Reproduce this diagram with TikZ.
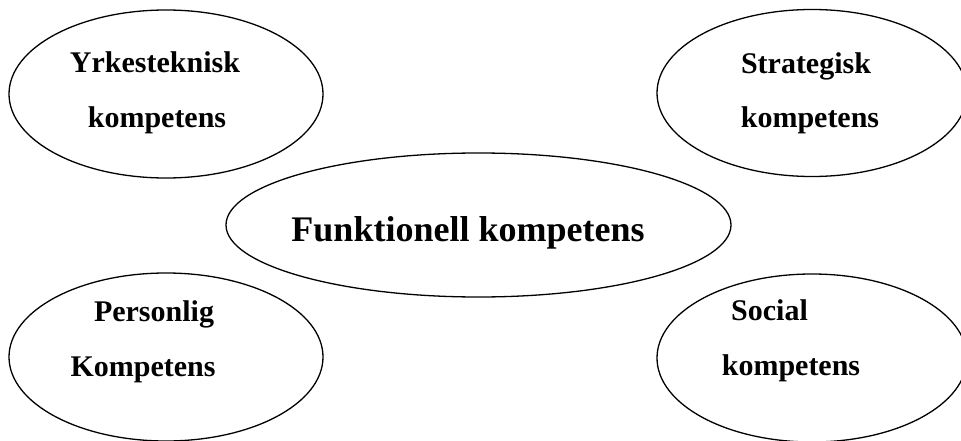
\documentclass[tikz,border=0pt]{standalone}
\usepackage{fontspec}
\setmainfont{Liberation Serif}
\usetikzlibrary{shapes.geometric}
\tikzset{
  bubble/.style={draw=black, line width=1.3pt, ellipse, inner sep=0pt},
  lbl/.style={font=\bfseries\fontsize{30}{34}\selectfont, inner sep=0pt, anchor=base},
  biglbl/.style={font=\bfseries\fontsize{36}{40}\selectfont, inner sep=0pt, anchor=base}
}
\begin{document}
\begin{tikzpicture}[x=1pt,y=-1pt]
  \useasboundingbox (0,0) rectangle (961,441);
  % outer ellipses
  \node[bubble, minimum width=314pt, minimum height=168pt] (yrk) at (166,94) {};
  \node[bubble, minimum width=310pt, minimum height=167pt] (str) at (812,93) {};
  \node[bubble, minimum width=314pt, minimum height=168pt] (per) at (166,357) {};
  \node[bubble, minimum width=310pt, minimum height=168pt] (soc) at (812,358) {};
  % central ellipse
  \node[bubble, minimum width=505pt, minimum height=144pt] (fun) at (478.5,225) {};
  % labels
  \node[lbl] (yrk1) at (155,73) {Yrkesteknisk};
  \node[lbl] (yrk2) at (157,128) {kompetens};
  \node[lbl] (str1) at (806,74) {Strategisk};
  \node[lbl] (str2) at (810,128) {kompetens};
  \node[biglbl] (fun1) at (468,241) {Funktionell kompetens};
  \node[lbl] (per1) at (154,321) {Personlig};
  \node[lbl] (per2) at (143,376) {Kompetens};
  \node[lbl, anchor=base west] (soc1) at (731,320) {Social};
  \node[lbl] (soc2) at (791,375) {kompetens};
\end{tikzpicture}
\end{document}
